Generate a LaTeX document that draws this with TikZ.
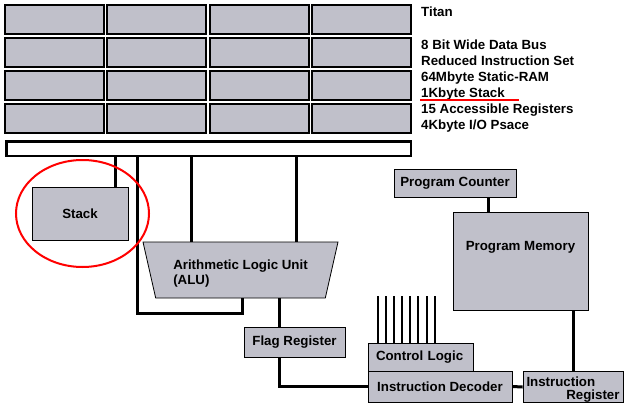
\documentclass[tikz,border=0pt]{standalone}
\usepackage{fontspec}
\setmainfont{Liberation Sans}
\usetikzlibrary{shapes.geometric}
\definecolor{chipgrey}{RGB}{192,192,202}
\begin{document}
\begin{tikzpicture}[x=1pt,y=-1pt,line join=miter]
  \tikzset{lbl/.style={font=\bfseries\fontsize{13.3}{13}\selectfont},
    unit/.style={lbl,draw,fill=chipgrey,line width=0.8pt,inner sep=0pt},
    tile/.style={draw,fill=chipgrey,line width=2pt,minimum width=99pt,minimum height=29pt,inner sep=0pt},
    wire/.style={line width=3pt},
    sig/.style={line width=2pt},
    ring/.style={red,line width=2pt}}
  \useasboundingbox (0,0) rectangle (628,412);
  \foreach \r in {0,...,3}
    \foreach \c in {0,...,3}
      \node[tile] (tile-\r-\c) at (54.5+102.4*\c,19.5+33*\r) {};
  \node[lbl,anchor=base west,inner sep=0pt] (title) at (421,17) {Titan};
  \foreach \t [count=\k] in {8 Bit Wide Data Bus,Reduced Instruction Set,64Mbyte Static-RAM,1Kbyte Stack,15 Accessible Registers,4Kbyte I/O Psace}
    \node[lbl,anchor=base west,inner sep=0pt] (spec-\k) at (421,33+16*\k) {\t};
  \draw[ring] ([shift={(-1pt,-2.5pt)}]spec-4.base west) -- ++(99,0);
  \node[draw,fill=white,line width=2.5pt,minimum width=404.5pt,minimum height=14.5pt,inner sep=0pt] (bus) at (208.5,148.5) {};
  \node[unit,minimum width=96pt,minimum height=53pt] (stack) at (80,213.5) {Stack};
  \node[unit,trapezium,trapezium left angle=110.6,trapezium right angle=110.6,trapezium stretches body,
    minimum width=195pt,minimum height=56pt,align=left] (alu) at (240.5,270) {\rule{0pt}{16pt}Arithmetic Logic Unit\\[2pt](ALU)};
  \node[unit,minimum width=101pt,minimum height=30pt] (flag) at (294.5,342) {Flag Register};
  \node[unit,minimum height=28pt,text width=89pt,inner xsep=8pt,align=left] (ctrl) at (420.5,357) {Control Logic};
  \node[unit,minimum width=144pt,minimum height=31pt] (dec) at (440,386.5) {Instruction Decoder};
  \node[unit,minimum height=30pt,text width=93pt,inner xsep=3.5pt,align=left] (ireg) at (573,387) {\rule{0pt}{15pt}Instruction\\\hspace*{\fill}Register};
  \node[unit,minimum width=122pt,minimum height=28pt] (pc) at (455,183) {Program Counter};
  \node[unit,minimum width=135pt,minimum height=98pt,
    label={[lbl,anchor=north,inner sep=0pt,yshift=-30pt]north:Program Memory}] (pm) at (520.5,261) {};
  \coordinate (stacktap) at (115,0);
  \coordinate (looptap) at (137,0);
  \coordinate (aluout) at (242,313);
  \coordinate (alutapA) at (191,0);
  \coordinate (alutapB) at (296,0);
  \coordinate (flagtap) at (279.5,0);
  \coordinate (pctap) at (488,0);
  \draw[wire] (stacktap |- bus.south) -- (stacktap |- stack.north);
  \draw[wire] (looptap |- bus.south) |- (aluout) -- (aluout |- alu.south);
  \draw[wire] (alutapA |- bus.south) -- (alutapA |- alu.north);
  \draw[wire] (alutapB |- bus.south) -- (alutapB |- alu.north);
  \draw[wire] (flagtap |- alu.south) -- (flagtap |- flag.north);
  \draw[wire] (flagtap |- flag.south) |- (dec.west);
  \draw[wire] (dec.east) -- (ireg.west);
  \draw[wire] (pctap |- pc.south) -- (pctap |- pm.north);
  \draw[wire] (ireg.north |- pm.south) -- (ireg.north);
  \foreach \i in {0,...,7}
    \draw[sig] ([xshift=10pt+8.15pt*\i]ctrl.north west) -- ++(0,-47);
  \draw[ring] ([xshift=2.5pt]stack.center) ellipse [x radius=66.5, y radius=53.5];
\end{tikzpicture}
\end{document}
